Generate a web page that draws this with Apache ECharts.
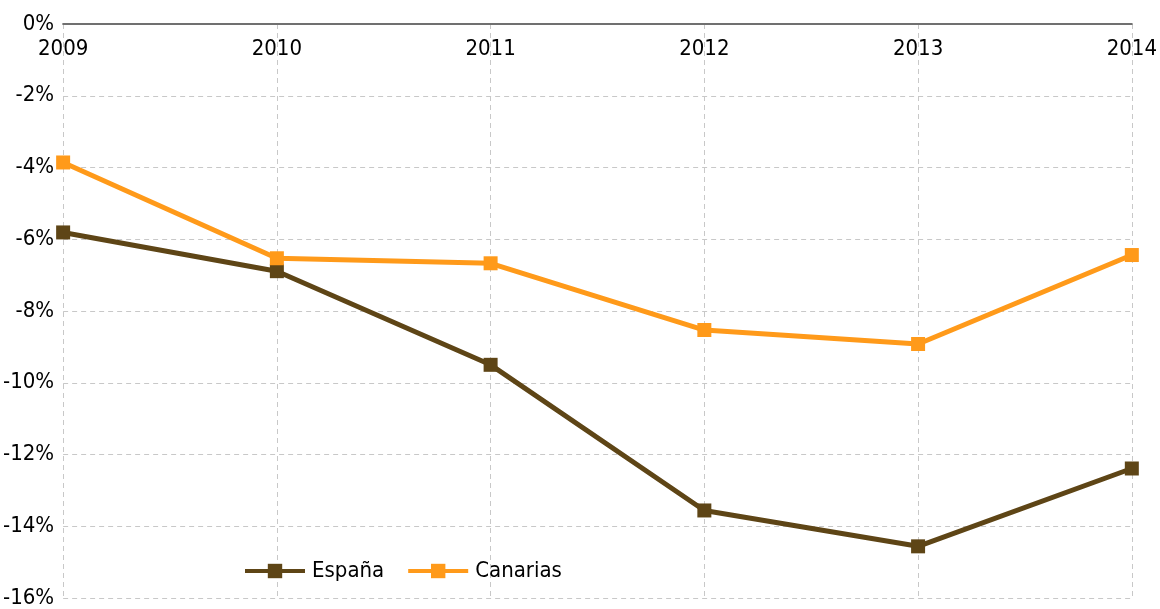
<!DOCTYPE html>
<html><head><meta charset="utf-8">
<script src="https://cdn.jsdelivr.net/npm/echarts@6/dist/echarts.min.js"></script>
<style>html,body{margin:0;padding:0;background:#fff}#c{width:1160px;height:609px}</style>
</head><body><div id="c"></div>
<script>
const years = ['2009','2010','2011','2012','2013','2014'];
const espana = [-5.81, -6.89, -9.5, -13.56, -14.56, -12.39];
const canarias = [-3.86, -6.53, -6.67, -8.53, -8.92, -6.44];
const yTicks = {min: -16, max: 0, interval: 2};

const FONT = "'DejaVu Sans Condensed', 'DejaVu Sans', sans-serif";
const chart = echarts.init(document.getElementById('c'), null, {renderer: 'canvas'});
chart.setOption({
  animation: false,
  backgroundColor: '#fff',
  textStyle: {fontFamily: FONT},
  grid: {left: 61, right: 28, top: 24, bottom: 9, containLabel: false},
  legend: {
    left: 238, top: 555, itemWidth: 60, itemHeight: 18, itemGap: 22,
    lineStyle: {width: 4},
    textStyle: {fontSize: 22, color: '#000', fontFamily: FONT, padding: [0, 0, 0, 2]},
    data: ['España', 'Canarias']
  },
  xAxis: {
    type: 'category', data: years, position: 'top', boundaryGap: false,
    axisLine: {show: true, onZero: false, lineStyle: {color: '#707070', width: 2}},
    axisTick: {show: false},
    axisLabel: {inside: true, margin: 14, fontSize: 22, color: '#000', fontFamily: FONT},
    splitLine: {show: true, lineStyle: {color: '#c8c8c8', type: [5, 4], width: 1}}
  },
  yAxis: {
    type: 'value', min: yTicks.min, max: yTicks.max, interval: yTicks.interval,
    axisLine: {show: false}, axisTick: {show: false},
    axisLabel: {fontSize: 22, color: '#000', margin: 9, fontFamily: FONT, formatter: v => v + '%'},
    splitLine: {show: true, lineStyle: {color: '#c8c8c8', type: [5, 4], width: 1}}
  },
  series: [
    {name: 'España', type: 'line', data: espana, symbol: 'rect', symbolSize: 14,
     lineStyle: {color: '#5e4516', width: 5}, itemStyle: {color: '#5e4516'}},
    {name: 'Canarias', type: 'line', data: canarias, symbol: 'rect', symbolSize: 14,
     lineStyle: {color: '#ff9a1a', width: 5}, itemStyle: {color: '#ff9a1a'}}
  ]
});
</script></body></html>
